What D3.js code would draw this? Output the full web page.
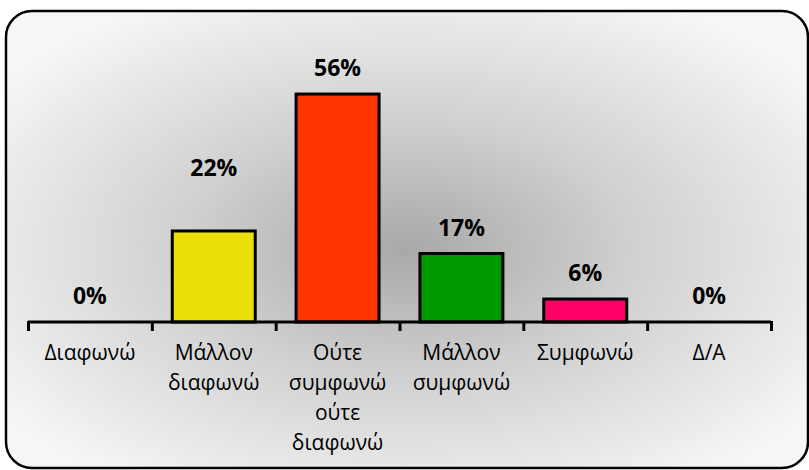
<!DOCTYPE html>
<html>
<head>
<meta charset="utf-8">
<script src="https://cdn.jsdelivr.net/npm/d3@7"></script>
<style>
  body { margin: 0; background: #fff; }
  text { font-family: "Open Sans", sans-serif; }
</style>
</head>
<body>
<svg id="chart" width="809" height="470"></svg>
<script>
// categories (lines of each axis label)
let categories = ["Διαφωνώ", "Μάλλον διαφωνώ", "Ούτε συμφωνώ ούτε διαφωνώ", "Μάλλον συμφωνώ", "Συμφωνώ", "Δ/Α"];
let labelLines = [["Διαφωνώ"], ["Μάλλον", "διαφωνώ"], ["Ούτε", "συμφωνώ", "ούτε", "διαφωνώ"], ["Μάλλον", "συμφωνώ"], ["Συμφωνώ"], ["Δ/Α"]];
let values = [0, 0.222, 0.556, 0.167, 0.056, 0];
let colors = ["#ffff00", "#ebdf0a", "#ff3300", "#009900", "#ff0066", "#999999"];

let svg = d3.select("#chart");

// background gradient
let defs = svg.append("defs");
let grad = defs.append("radialGradient")
    .attr("id", "bg")
    .attr("cx", "50%").attr("cy", "52%").attr("r", "62%");
grad.append("stop").attr("offset", "0%").attr("stop-color", "#a8a8a8");
grad.append("stop").attr("offset", "45%").attr("stop-color", "#d0d0d0");
grad.append("stop").attr("offset", "100%").attr("stop-color", "#f6f6f6");

svg.append("rect")
    .attr("x", 6).attr("y", 11)
    .attr("width", 802).attr("height", 457)
    .attr("rx", 26).attr("ry", 26)
    .attr("fill", "url(#bg)")
    .attr("stroke", "#000")
    .attr("stroke-width", 2.5);

let axisY = 322; // baseline of the bars
let xScale = d3.scaleBand()
    .domain(categories)
    .range([28, 771])
    .paddingInner(0.33)
    .paddingOuter(0.165);

let yScale = d3.scaleLinear()
    .domain([0, 0.6])
    .range([axisY, axisY - 246]);

let g = svg.append("g");

// bars
g.selectAll(".bar")
    .data(values)
    .enter()
    .append("rect")
    .attr("class", "bar")
    .attr("x", (d, i) => xScale(categories[i]))
    .attr("y", d => yScale(d))
    .attr("width", xScale.bandwidth())
    .attr("height", d => axisY - yScale(d))
    .attr("fill", (d, i) => colors[i])
    .attr("stroke", "#000")
    .attr("stroke-width", 3)
    .attr("display", d => d > 0 ? null : "none");

// value labels (22% was nudged up in the original)
let labelShift = [0, 37, 0, 0, 0, 0];
let fmt = d3.format(".0%");
g.selectAll(".val")
    .data(values)
    .enter()
    .append("text")
    .attr("class", "val")
    .attr("x", (d, i) => xScale(categories[i]) + xScale.bandwidth() / 2)
    .attr("y", (d, i) => yScale(d) - 18 - labelShift[i])
    .attr("text-anchor", "middle")
    .style("font-size", "23px")
    .style("font-weight", "bold")
    .text(d => fmt(d));

// category axis
let stepScale = d3.scalePoint()
    .domain(d3.range(categories.length + 1))
    .range([28, 771]);
let axis = d3.axisBottom(stepScale)
    .tickSize(9)
    .tickFormat("");
let ax = g.append("g")
    .attr("transform", "translate(0," + axisY + ")")
    .call(axis);
ax.select(".domain")
    .attr("d", "M28,0H771")
    .attr("stroke", "#000")
    .attr("stroke-width", 3);
ax.selectAll(".tick line")
    .attr("stroke", "#000")
    .attr("stroke-width", 3)
    .attr("y1", -1);

// category labels
let cat = g.selectAll(".cat")
    .data(labelLines)
    .enter()
    .append("text")
    .attr("class", "cat")
    .attr("text-anchor", "middle")
    .attr("x", (d, i) => xScale(categories[i]) + xScale.bandwidth() / 2)
    .attr("y", 360)
    .style("font-size", "21px")
    .attr("fill", "#000");
cat.selectAll("tspan")
    .data(d => d)
    .enter()
    .append("tspan")
    .attr("x", function() { return d3.select(this.parentNode).attr("x"); })
    .attr("dy", (d, i) => i === 0 ? 0 : 30)
    .text(d => d);
</script>
</body>
</html>
